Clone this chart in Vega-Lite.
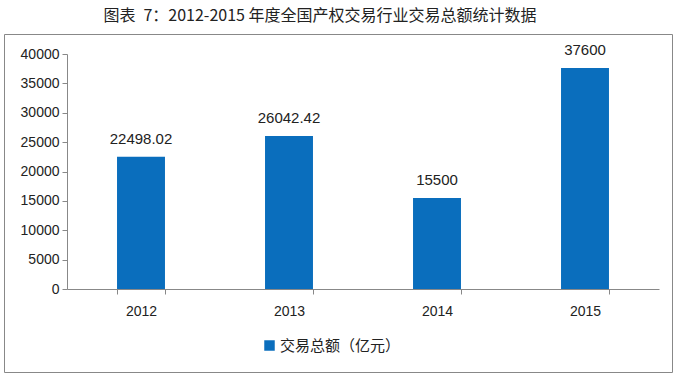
{
  "$schema": "https://vega.github.io/schema/vega-lite/v6.json",
  "width": 668,
  "height": 338,
  "autosize": "none",
  "padding": {"left": 4, "top": 34, "right": 5, "bottom": 4},
  "background": "white",
  "title": {
    "text": "图表\u20027：2012-2015 年度全国产权交易行业交易总额统计数据",
    "font": "Noto Sans CJK SC",
    "fontSize": 16,
    "fontWeight": "normal",
    "color": "#222",
    "anchor": "middle",
    "offset": 10,
    "dx": -18
  },
  "data": {
    "values": [
      {"year": "2012", "value": 22498.02},
      {"year": "2013", "value": 26042.42},
      {"year": "2014", "value": 15500},
      {"year": "2015", "value": 37600}
    ]
  },
  "encoding": {
    "x": {
      "field": "year",
      "type": "nominal",
      "sort": null,
      "scale": {"range": [63, 655], "paddingInner": 0.676, "paddingOuter": 0.338},
      "axis": {
        "title": null,
        "offset": -83,
        "labelAngle": 0,
        "tickBand": "extent",
        "tickSize": 5,
        "labelPadding": 10,
        "labelFontSize": 14,
        "labelFont": "Liberation Sans",
        "labelColor": "#222",
        "domainColor": "#888",
        "tickColor": "#888"
      }
    },
    "y": {
      "field": "value",
      "type": "quantitative",
      "scale": {"domain": [0, 40000], "range": [255, 20], "nice": false},
      "axis": {
        "title": null,
        "offset": -63,
        "values": [0, 5000, 10000, 15000, 20000, 25000, 30000, 35000, 40000],
        "format": "d",
        "grid": false,
        "tickSize": 5,
        "labelPadding": 3,
        "labelFontSize": 14,
        "labelFont": "Liberation Sans",
        "labelColor": "#222",
        "domainColor": "#888",
        "tickColor": "#888"
      }
    }
  },
  "layer": [
    {
      "mark": {"type": "bar"},
      "encoding": {
        "color": {
          "datum": "交易总额（亿元）",
          "type": "nominal",
          "scale": {"range": ["#0a6ebd"]},
          "legend": {
            "title": null,
            "orient": "none",
            "legendX": 258,
            "legendY": 304,
            "symbolType": "square",
            "symbolSize": 110,
            "symbolStrokeWidth": 0,
            "labelFont": "Noto Sans CJK SC",
            "labelFontSize": 15,
            "labelColor": "#222",
            "labelOffset": 3
          }
        }
      }
    },
    {
      "mark": {"type": "text", "dy": -10, "fontSize": 15, "font": "Liberation Sans", "color": "#222", "baseline": "bottom"},
      "encoding": {
        "text": {"field": "value", "type": "quantitative", "format": ""}
      }
    }
  ],
  "config": {
    "view": {"stroke": "#888", "strokeWidth": 1}
  }
}
